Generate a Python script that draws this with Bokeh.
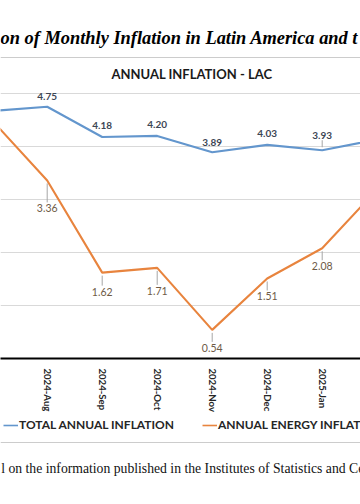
from bokeh.plotting import figure
from bokeh.layouts import column
from bokeh.models import (ColumnDataSource, Range1d, FixedTicker, LabelSet, Label,
                          Legend, LegendItem)
from bokeh.embed import file_html
from bokeh.resources import INLINE
from bokeh.core.properties import value

# ---------------- data ----------------
months = ["2024-Jul", "2024-Aug", "2024-Sep", "2024-Oct", "2024-Nov",
          "2024-Dec", "2025-Jan", "2025-Feb"]
total_inflation = [4.67, 4.75, 4.18, 4.20, 3.89, 4.03, 3.93, 4.13]
energy_inflation = [4.49, 3.36, 1.62, 1.71, 0.54, 1.51, 2.08, 3.19]
grid_values = [1, 2, 3, 4, 5]

series_names = ["TOTAL ANNUAL INFLATION", "ANNUAL ENERGY INFLATION"]
chart_title = "ANNUAL INFLATION  - LAC"
page_title = "on of Monthly Inflation in Latin America and t"
source_note = "l on the information published in the Institutes of Statistics and Ce"

# ---------------- styles / layout ----------------
W = 360
H1, H2 = 416, 88
FRAME_BOTTOM = 358      # page px of the value axis (0)
PX_PER_UNIT = 53.0
PX_PER_CAT = 55.0
FIRST_CAT_PX = 46.7     # page px of category index 1
BLUE = "#6396cd"
ORANGE = "#e8843e"
BORDER = "#cccccc"

# label lifts (screen px) for visible points, blue above, orange below
total_lift = [10, 11, 11, 10, 11, 15]
energy_drop = [28, 19, 23, 18, 18, 18]

idx = list(range(len(months)))
x_start = 1 - FIRST_CAT_PX / PX_PER_CAT
x_end = x_start + W / PX_PER_CAT
y_end = FRAME_BOTTOM / PX_PER_UNIT

p = figure(width=W, height=H1, output_backend="svg", toolbar_location=None,
           title=None, x_range=Range1d(x_start, x_end), y_range=Range1d(0, y_end),
           y_axis_location=None, min_border_left=0, min_border_right=0,
           min_border_top=0, min_border_bottom=H1 - FRAME_BOTTOM)
p.outline_line_color = None
p.background_fill_color = "white"
p.border_fill_color = "white"

ax = p.xaxis[0]
ax.ticker = FixedTicker(ticks=idx)
ax.major_label_overrides = {i: m for i, m in enumerate(months)}
ax.major_label_orientation = "vertical"
ax.major_label_text_font = "Lato"
ax.major_label_text_font_style = "bold"
ax.major_label_text_font_size = "9.6px"
ax.major_label_text_color = "#262626"
ax.major_label_standoff = 4
ax.axis_line_color = "black"
ax.axis_line_width = 2
ax.major_tick_line_color = None
ax.minor_tick_line_color = None

p.xgrid.visible = False
p.ygrid.ticker = FixedTicker(ticks=grid_values)
p.ygrid.grid_line_color = "#d9d9d9"
p.ygrid.grid_line_width = 1

# chart top border (page y 57 expressed in this plot's value units)
p.hspan(y=[(FRAME_BOTTOM - 57) / PX_PER_UNIT], line_color=BORDER, line_width=1)

vis = [i for i in idx if x_start <= i <= x_end]
tv = [total_inflation[i] for i in vis]
ev = [energy_inflation[i] for i in vis]

lx, ly0, ly1 = [], [], []
for i, v, off in zip(vis, tv, total_lift):
    if off >= 14:
        lx.append(i); ly0.append(v + 3 / PX_PER_UNIT); ly1.append(v + (off - 5) / PX_PER_UNIT)
for i, v, off in zip(vis, ev, energy_drop):
    if off >= 14:
        lx.append(i); ly0.append(v - 3 / PX_PER_UNIT); ly1.append(v - (off - 6) / PX_PER_UNIT)
p.segment(x0=lx, y0=ly0, x1=lx, y1=ly1, line_color="#a6a6a6", line_width=1)

p.line(idx, total_inflation, line_color=BLUE, line_width=2.1)
p.line(idx, energy_inflation, line_color=ORANGE, line_width=2.1)

src_t = ColumnDataSource(dict(x=vis, y=tv, off=total_lift, txt=[f"{v:.2f}" for v in tv]))
src_e = ColumnDataSource(dict(x=vis, y=ev, off=[-d for d in energy_drop],
                              txt=[f"{v:.2f}" for v in ev]))
p.add_layout(LabelSet(x="x", y="y", text="txt", y_offset="off", source=src_t,
                      text_align="center", text_baseline="middle",
                      text_font=value("Lato"), text_font_style="bold",
                      text_font_size="10px", text_color="#3d4654"))
p.add_layout(LabelSet(x="x", y="y", text="txt", y_offset="off", source=src_e,
                      text_align="center", text_baseline="middle",
                      text_font=value("Lato"), text_font_style="normal",
                      text_font_size="10.5px", text_color="#6e5a46"))

p.add_layout(Label(x=193, y=FRAME_BOTTOM - 73, x_units="screen", y_units="screen",
                   text=chart_title, text_align="center", text_baseline="middle",
                   text_font="Lato", text_font_style="bold", text_font_size="13px",
                   text_color="#1a1a1a"))
p.add_layout(Label(x=0, y=FRAME_BOTTOM - 37.5, x_units="screen", y_units="screen",
                   text=page_title, text_align="left", text_baseline="alphabetic",
                   text_font="Liberation Serif", text_font_style="bold italic",
                   text_font_size="18.4px", text_color="black"))

# ---------------- lower strip: legend, border, source note ----------------
p2 = figure(width=W, height=H2, output_backend="svg", toolbar_location=None,
            title=None, x_range=Range1d(0, W), y_range=Range1d(0, H2),
            x_axis_location=None, y_axis_location=None,
            min_border_left=0, min_border_right=0, min_border_top=0, min_border_bottom=0)
p2.outline_line_color = None
p2.xgrid.visible = False
p2.ygrid.visible = False
p2.border_fill_color = "white"

nan = float("nan")
key_t = p2.line(x=[nan], y=[nan], line_color=BLUE, line_width=1.6)
key_e = p2.line(x=[nan], y=[nan], line_color=ORANGE, line_width=1.6)

TOP2 = H1 + H2   # page y of the strip bottom
for name, rend, lx0 in zip(series_names, [key_t, key_e], [3, 202]):
    lg = Legend(items=[LegendItem(label=name, renderers=[rend])],
                location=(lx0, TOP2 - 425 - 7), orientation="horizontal",
                border_line_color=None, background_fill_alpha=0, padding=0, margin=0,
                glyph_width=15, glyph_height=14, label_height=14, label_standoff=1,
                spacing=0, label_text_font="Lato", label_text_font_style="bold",
                label_text_font_size="12px", label_text_color="#262626")
    p2.add_layout(lg)

# chart bottom border (page y 441; this strip's y range is pixels from its bottom)
p2.hspan(y=[TOP2 - 441 - 0.5], line_color=BORDER, line_width=1)
p2.add_layout(Label(x=0.7, y=TOP2 - 468, x_units="screen", y_units="screen",
                    text=source_note, text_align="left", text_baseline="alphabetic",
                    text_font="Liberation Serif", text_font_style="normal",
                    text_font_size="13.7px", text_color="#111111"))

layout = column(p, p2, spacing=0)
open("out.html", "w").write(file_html(layout, INLINE))
